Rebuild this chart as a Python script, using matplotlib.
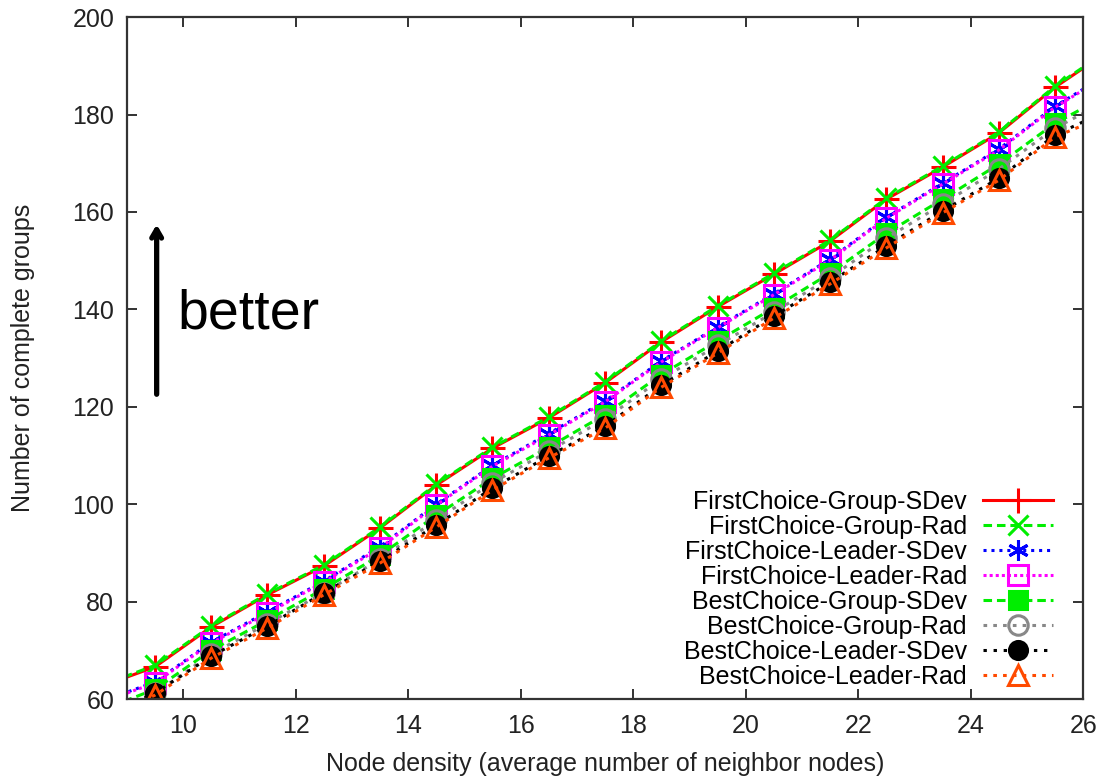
import matplotlib.pyplot as plt

plt.rcParams['font.family'] = ['Liberation Sans', 'DejaVu Sans']

# node density values (the end points lie outside the axes and only carry the lines to the frame)
density = [8.5, 9.5, 10.5, 11.5, 12.5, 13.5, 14.5, 15.5, 16.5, 17.5,
           18.5, 19.5, 20.5, 21.5, 22.5, 23.5, 24.5, 25.5, 26.5]

fc_group_sdev = [62.4, 66.6, 74.8, 81.4, 87.3, 95.1, 103.9, 111.5, 117.7, 124.9,
                 133.3, 140.5, 147.2, 154.0, 162.6, 169.2, 176.2, 185.6, 193.4]
fc_group_rad = [62.6, 66.9, 75.0, 81.6, 87.5, 95.3, 104.1, 111.7, 117.9, 125.1,
                133.5, 140.7, 147.4, 154.2, 162.8, 169.4, 176.4, 185.8, 193.6]
fc_leader_sdev = [59.3, 63.5, 71.7, 77.9, 84.2, 91.3, 100.0, 108.0, 114.5, 121.2,
                  129.4, 136.4, 143.2, 150.3, 158.9, 165.9, 172.9, 181.7, 188.7]
fc_leader_rad = [59.1, 63.3, 71.5, 77.6, 84.0, 91.0, 99.8, 107.8, 114.2, 121.0,
                 129.2, 136.2, 143.0, 150.1, 158.7, 165.7, 172.7, 181.5, 188.5]
bc_group_sdev = [57.5, 62.0, 70.0, 76.2, 82.6, 89.5, 97.7, 105.3, 111.7, 118.4,
                 126.6, 133.5, 140.3, 147.4, 155.6, 162.6, 169.8, 178.2, 184.4]
bc_group_rad = [56.8, 61.2, 69.2, 75.5, 81.8, 88.7, 96.8, 104.4, 110.9, 117.5,
                125.7, 132.6, 139.4, 146.5, 154.6, 161.6, 168.8, 177.2, 183.3]
bc_leader_sdev = [55.9, 61.2, 68.8, 75.0, 81.8, 88.3, 95.7, 103.3, 109.9, 116.0,
                  124.4, 131.4, 138.6, 145.6, 153.0, 160.2, 166.9, 175.8, 181.2]
bc_leader_rad = [55.5, 60.8, 68.4, 74.6, 81.4, 87.9, 95.3, 102.9, 109.5, 115.6,
                 124.0, 131.0, 138.2, 145.2, 152.6, 159.8, 166.5, 175.4, 180.2]

labels = ['FirstChoice-Group-SDev', 'FirstChoice-Group-Rad', 'FirstChoice-Leader-SDev',
          'FirstChoice-Leader-Rad', 'BestChoice-Group-SDev', 'BestChoice-Group-Rad',
          'BestChoice-Leader-SDev', 'BestChoice-Leader-Rad']
series = [fc_group_sdev, fc_group_rad, fc_leader_sdev, fc_leader_rad,
          bc_group_sdev, bc_group_rad, bc_leader_sdev, bc_leader_rad]

# colour, line dashes, marker, marker face, marker size
styles = [
    ('#ff0000', (), '+', 'none', 18),
    ('#00ee00', (2.8, 1.6), 'x', 'none', 14),
    ('#0000ff', (1, 1.6), (6, 2, 0), '#0000ff', 15),  # gnuplot style asterisk
    ('#ff00ff', (1, 1), 's', 'none', 14),
    ('#00ee00', (2.8, 1.6), 's', '#00ee00', 13),
    ('#888888', (1.2, 2), 'o', 'none', 14),
    ('#000000', (1.1, 2.2), 'o', '#000000', 13),
    ('#ff4a00', (1.2, 2), '^', 'none', 14),
]

fig = plt.figure(figsize=(11.03, 7.78), dpi=100)
ax = fig.add_axes([0.115, 0.1015, 0.867, 0.8765])

for vals, lab, (col, dash, mk, face, ms) in zip(series, labels, styles):
    line, = ax.plot(density, vals, color=col, lw=2.2, marker=mk, markersize=ms,
                    markerfacecolor=face, markeredgecolor=col, markeredgewidth=2.2,
                    label=lab)
    if dash:
        line.set_dashes(dash)

ax.set_xlim(9, 26)
ax.set_ylim(60, 200)
ax.set_xticks([10, 12, 14, 16, 18, 20, 22, 24, 26])
ax.set_yticks([60, 80, 100, 120, 140, 160, 180, 200])
ax.tick_params(direction='in', length=7, width=1.3, labelsize=18, top=True, right=True,
               colors='#222222')
ax.tick_params(axis='x', pad=11)
ax.tick_params(axis='y', pad=9)
for sp in ax.spines.values():
    sp.set_linewidth(1.6)
    sp.set_color('#333333')

ax.set_xlabel('Node density (average number of neighbor nodes)', fontsize=18, labelpad=10,
              color='#222222')
ax.set_ylabel('Number of complete groups', fontsize=18, labelpad=27, color='#222222')

# "better" arrow
ax.annotate('', xy=(9.53, 158.0), xytext=(9.53, 122.0),
            arrowprops=dict(arrowstyle='->,head_length=0.6,head_width=0.35', lw=3.8,
                            color='black'))
ax.text(9.9, 139.0, 'better', fontsize=40, va='center', ha='left')

# markerfirst=False puts the labels right-aligned to the left of the samples
ax.legend(loc='lower right', bbox_to_anchor=(1 - 30 / 956, 10 / 682), frameon=False,
          markerfirst=False, fontsize=18, handlelength=2.8, handletextpad=0.65,
          labelspacing=0.04, borderpad=0, borderaxespad=0, numpoints=1)

fig.savefig('out.png', dpi=100)
